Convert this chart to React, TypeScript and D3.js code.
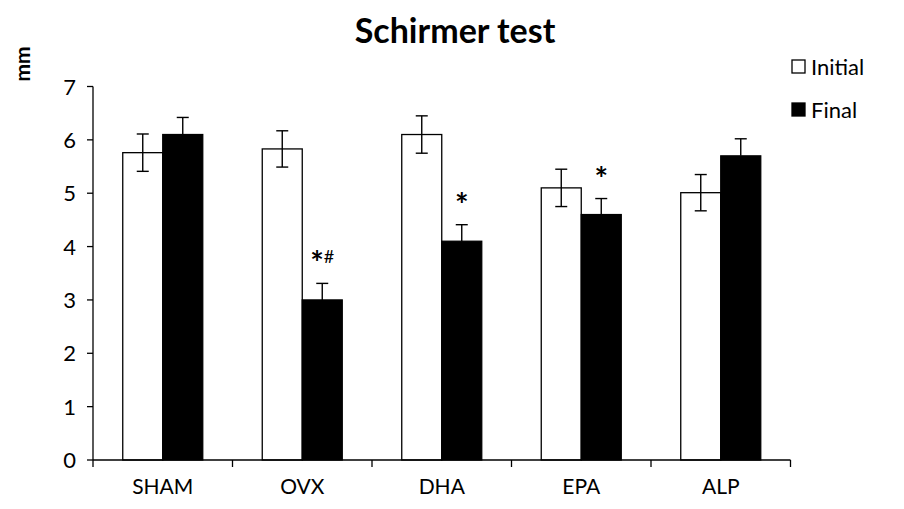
import React from "react";
import * as d3 from "d3";

const categories = ["SHAM", "OVX", "DHA", "EPA", "ALP"];
const initialValues = [5.76, 5.83, 6.1, 5.1, 5.01];
const initialErrors = [0.35, 0.34, 0.35, 0.35, 0.34];
const finalValues = [6.1, 3.0, 4.1, 4.6, 5.7];
const finalErrors = [0.32, 0.31, 0.31, 0.3, 0.32];
const finalMarks = ["", "*#", "*", "*", ""];
const yTicks = [0, 1, 2, 3, 4, 5, 6, 7];
const seriesNames = ["Initial", "Final"];

const W = 904;
const H = 509;
const FONT = "Lato, 'Open Sans', sans-serif";

export default function App() {
  const x = d3.scaleBand<string>().domain(categories).range([93, 790.5]);
  const y = d3.scaleLinear().domain([0, 7]).range([460, 86.5]);
  const barW = 40;

  const series = [
    { vals: initialValues, errs: initialErrors, fill: "#ffffff", off: -barW },
    { vals: finalValues, errs: finalErrors, fill: "#000000", off: 0 },
  ];

  return (
    <svg width={W} height={H} style={{ position: "absolute", left: 0, top: 0 }}>
      <rect x={0} y={0} width={W} height={H} fill="#ffffff" />
      <text x={455} y={43} textAnchor="middle" fontFamily={FONT} fontWeight="bold" fontSize={34}>
        Schirmer test
      </text>
      <text
        transform={`translate(30,64) rotate(-90)`}
        textAnchor="middle"
        fontFamily={FONT}
        fontWeight="bold"
        fontSize={21}
      >
        mm
      </text>
      {/* bars */}
      {series.map((s, si) =>
        categories.map((c, i) => {
          const cx = (x(c) as number) + x.bandwidth() / 2;
          const bx = cx + s.off;
          return (
            <rect
              key={`b${si}-${i}`}
              x={bx}
              y={y(s.vals[i])}
              width={barW}
              height={y(0) - y(s.vals[i])}
              fill={s.fill}
              stroke="#000"
              strokeWidth={1.3}
            />
          );
        })
      )}
      {/* error bars */}
      {series.map((s, si) =>
        categories.map((c, i) => {
          const cx = (x(c) as number) + x.bandwidth() / 2 + s.off + barW / 2;
          const top = y(s.vals[i] + s.errs[i]);
          const bot = si === 0 ? y(s.vals[i] - s.errs[i]) : y(s.vals[i]);
          return (
            <g key={`e${si}-${i}`} stroke="#000" strokeWidth={1.4}>
              <line x1={cx} x2={cx} y1={top} y2={bot} />
              <line x1={cx - 6} x2={cx + 6} y1={top} y2={top} />
              {si === 0 && <line x1={cx - 6} x2={cx + 6} y1={bot} y2={bot} />}
            </g>
          );
        })
      )}
      {/* significance marks */}
      {categories.map((c, i) => {
        const m = finalMarks[i];
        if (!m) return null;
        const cx = (x(c) as number) + x.bandwidth() / 2 + barW / 2;
        const top = y(finalValues[i] + finalErrors[i]);
        return (
          <text key={`m${i}`} x={cx} y={top - 8} textAnchor="middle" fontFamily={FONT}>
            {m.split("").map((ch, k) => (
              <tspan
                key={k}
                fontSize={ch === "#" ? 18 : 32}
                fontWeight={ch === "#" ? "normal" : "bold"}
                dy={ch === "#" ? -12 : 0}
              >
                {ch}
              </tspan>
            ))}
          </text>
        );
      })}
      {/* y axis */}
      <line x1={93} x2={93} y1={y(7)} y2={y(0)} stroke="#000" strokeWidth={1.3} />
      {yTicks.map((t) => (
        <g key={`yt${t}`}>
          <line x1={87} x2={93} y1={y(t)} y2={y(t)} stroke="#000" strokeWidth={1.3} />
          <text x={76} y={y(t) + 8} textAnchor="end" fontFamily={FONT} fontSize={22}>
            {t}
          </text>
        </g>
      ))}
      {/* x axis */}
      <line x1={93} x2={790.5} y1={y(0)} y2={y(0)} stroke="#000" strokeWidth={1.3} />
      {categories.map((c, i) => (
        <line
          key={`xt${i}`}
          x1={x(c) as number}
          x2={x(c) as number}
          y1={y(0)}
          y2={y(0) + 7}
          stroke="#000"
          strokeWidth={1.3}
        />
      ))}
      <line x1={790.5} x2={790.5} y1={y(0)} y2={y(0) + 7} stroke="#000" strokeWidth={1.3} />
      {categories.map((c, i) => (
        <text
          key={`xl${i}`}
          x={(x(c) as number) + x.bandwidth() / 2}
          y={494}
          textAnchor="middle"
          fontFamily={FONT}
          fontSize={21}
        >
          {c}
        </text>
      ))}
      {/* legend */}
      {seriesNames.map((n, i) => (
        <g key={`lg${i}`}>
          <rect
            x={792}
            y={60 + i * 43}
            width={13}
            height={13}
            fill={i === 0 ? "#fff" : "#000"}
            stroke="#000"
            strokeWidth={1.3}
          />
          <text x={811} y={75 + i * 43} fontFamily={FONT} fontSize={22}>
            {n}
          </text>
        </g>
      ))}
    </svg>
  );
}
